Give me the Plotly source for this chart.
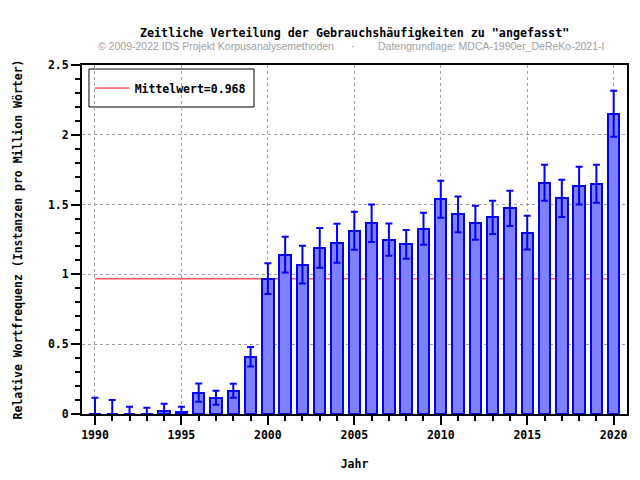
import plotly.graph_objects as go

# --- data ---
YEARS = list(range(1990, 2021))
FREQ = [0.0, 0.0, 0.0, 0.0, 0.019, 0.012, 0.153, 0.117, 0.167, 0.41,
        0.969, 1.141, 1.07, 1.19, 1.223, 1.313, 1.366, 1.249, 1.215, 1.327,
        1.538, 1.43, 1.37, 1.409, 1.473, 1.299, 1.657, 1.545, 1.636, 1.65,
        2.151]
ERR = [0.117, 0.10, 0.052, 0.045, 0.055, 0.04, 0.065, 0.05, 0.05, 0.07,
       0.11, 0.128, 0.135, 0.143, 0.14, 0.136, 0.134, 0.115, 0.103, 0.115,
       0.133, 0.128, 0.122, 0.119, 0.127, 0.121, 0.129, 0.133, 0.136, 0.136,
       0.165]
MEAN = 0.968

TITLE = 'Zeitliche Verteilung der Gebrauchshäufigkeiten zu "angefasst"'
CREDIT = "© 2009-2022 IDS Projekt Korpusanalysemethoden"
SOURCE = "Datengrundlage: MDCA-1990er_DeReKo-2021-I"
X_TITLE = "Jahr"
Y_TITLE = "Relative Wortfrequenz (Instanzen pro Million Wörter)"

MONO = "DejaVu Sans Mono"
tick_font = dict(family=MONO, size=11.5, color="black", weight="bold")

fig = go.Figure()

# legend entry for the mean line (line itself drawn as a shape below the bars)
fig.add_trace(go.Scatter(x=[None], y=[None], mode="lines",
                         line=dict(color="red", width=1),
                         name=f"Mittelwert={MEAN:.3f}"))

fig.add_trace(go.Bar(
    x=YEARS, y=FREQ, width=0.66, showlegend=False,
    marker=dict(color="#8080ff", line=dict(color="#0000ff", width=2)),
    error_y=dict(type="data", array=ERR,
                 arrayminus=[min(v, e) for v, e in zip(FREQ, ERR)],
                 color="#0000ff", thickness=2, width=3.5),
))

fig.add_shape(type="line", xref="x", yref="y", layer="between",
              x0=YEARS[0], x1=YEARS[-1], y0=MEAN, y1=MEAN,
              line=dict(color="red", width=1))

# legend box
fig.add_shape(type="rect", xref="paper", yref="paper", layer="between",
              x0=0.0128, x1=0.3156, y0=0.8797, y1=0.9885,
              fillcolor="white", line=dict(color="black", width=1))

# page body adds ~8px offset, so margins are shifted up/left by that amount
fig.update_layout(
    width=640, height=480,
    margin=dict(l=74, r=21, t=57, b=74, autoexpand=False),
    plot_bgcolor="white", paper_bgcolor="white",
    showlegend=True,
    legend=dict(x=0.014, y=0.934, xanchor="left", yanchor="middle",
                bgcolor="rgba(0,0,0,0)", borderwidth=0, itemwidth=35,
                font=dict(family=MONO, size=11.5, color="black", weight="bold")),
    bargap=0,
)

fig.update_xaxes(
    range=[1989.25, 2020.77], tickmode="linear", tick0=1990, dtick=5,
    showline=True, linecolor="black", linewidth=2, mirror=True,
    ticks="outside", ticklen=9, tickwidth=2, tickcolor="black",
    tickfont=tick_font, automargin=False,
    minor=dict(dtick=1, tick0=1990, ticks="outside", ticklen=5, tickwidth=2,
               tickcolor="black", showgrid=False),
    showgrid=True, gridcolor="#a0a0a0", griddash="dot", gridwidth=1,
    zeroline=False,
    title=dict(text=X_TITLE, font=dict(family=MONO, size=11.5, color="black", weight="bold"),
               standoff=19),
)
fig.update_yaxes(
    range=[0, 2.5], tickmode="linear", tick0=0, dtick=0.5,
    showline=True, linecolor="black", linewidth=2, mirror=True,
    ticks="outside", ticklen=9, tickwidth=2, tickcolor="black",
    tickfont=tick_font, automargin=False,
    minor=dict(dtick=0.1, ticks="outside", ticklen=5, tickwidth=2,
               tickcolor="black", showgrid=False),
    showgrid=True, gridcolor="#a0a0a0", griddash="dot", gridwidth=1,
    zeroline=False,
    title=dict(text=Y_TITLE, font=dict(family=MONO, size=11.5, color="black", weight="bold"),
               standoff=23),
)

fig.add_annotation(text=TITLE, xref="paper", yref="paper", x=0.5, y=1, yshift=32,
                   showarrow=False, yanchor="middle",
                   font=dict(family=MONO, size=11.7, color="black", weight="bold"))
fig.add_annotation(text=CREDIT, xref="paper", yref="paper", x=(96 - 82) / 545, y=1, yshift=19,
                   showarrow=False, xanchor="left", yanchor="middle",
                   font=dict(family="Liberation Sans", size=10.5, color="#a0a0a0"))
fig.add_annotation(text="·", xref="paper", yref="paper", x=(353 - 82) / 545, y=1, yshift=19,
                   showarrow=False, xanchor="center", yanchor="middle",
                   font=dict(family="Liberation Sans", size=10.5, color="#a0a0a0"))
fig.add_annotation(text=SOURCE, xref="paper", yref="paper", x=(376 - 82) / 545, y=1, yshift=19,
                   showarrow=False, xanchor="left", yanchor="middle",
                   font=dict(family="Liberation Sans", size=10.5, color="#a0a0a0"))

fig.write_html("out.html")
